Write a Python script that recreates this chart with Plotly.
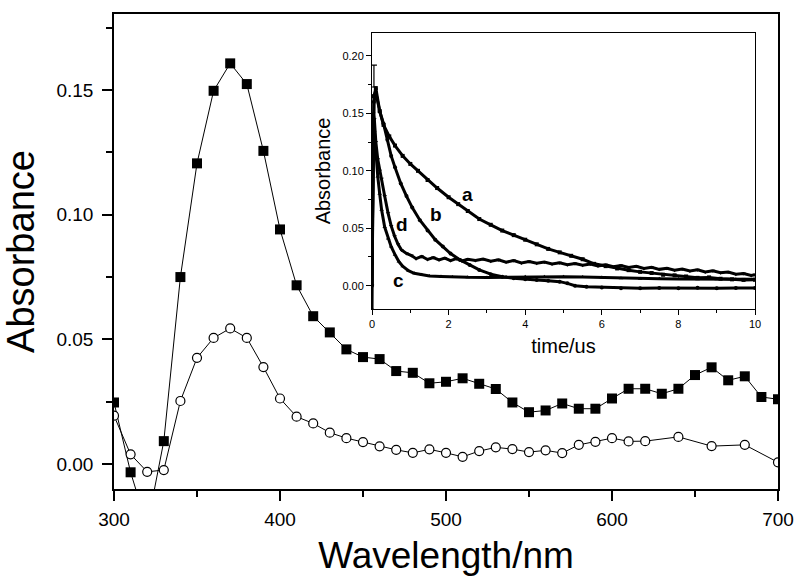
import plotly.graph_objects as go

# ---------------- main spectrum data ----------------
wl_sq = [300, 310, 320, 330, 340, 350, 360, 370, 380, 390, 400, 410, 420, 430, 440,
         450, 460, 470, 480, 490, 500, 510, 520, 530, 540, 550, 560, 570, 580, 590,
         600, 610, 620, 630, 640, 650, 660, 670, 680, 690, 700]
abs_sq = [0.0247, -0.0033, -0.025, 0.0092, 0.075, 0.1206, 0.1497, 0.1607, 0.1524, 0.1256,
          0.0941, 0.0717, 0.0593, 0.0528, 0.046, 0.0429, 0.0421, 0.0373, 0.0366, 0.0324,
          0.033, 0.0344, 0.0322, 0.0301, 0.0247, 0.0208, 0.0215, 0.0243, 0.0222, 0.0222,
          0.0263, 0.0302, 0.0302, 0.0282, 0.0302, 0.0357, 0.0388, 0.0336, 0.0352, 0.0269, 0.026]

wl_ci = [300, 310, 320, 330, 340, 350, 360, 370, 380, 390, 400, 410, 420, 430, 440,
         450, 460, 470, 480, 490, 500, 510, 520, 530, 540, 550, 560, 570, 580, 590,
         600, 610, 620, 640, 660, 680, 700]
abs_ci = [0.0194, 0.0039, -0.0031, -0.0024, 0.0253, 0.0426, 0.0506, 0.0544, 0.0506, 0.0389,
          0.0263, 0.019, 0.0163, 0.0126, 0.0104, 0.0088, 0.0071, 0.0057, 0.0045, 0.0059,
          0.0045, 0.0029, 0.0052, 0.0067, 0.006, 0.0048, 0.0055, 0.0044, 0.0077, 0.0089,
          0.0104, 0.0091, 0.0092, 0.0109, 0.0072, 0.0077, 0.0007]

main_xticks = [300, 400, 500, 600, 700]
main_yticks = [0.00, 0.05, 0.10, 0.15]

# ---------------- inset decay data ----------------
t_a = [0.0, 0.05, 0.1, 0.2, 0.3, 0.45, 0.6, 0.8, 1.0, 1.2, 1.45, 1.7, 2.0, 2.25, 2.5,
       2.8, 3.1, 3.4, 3.7, 4.0, 4.3, 4.6, 4.9, 5.2, 5.5, 5.8, 6.1, 6.4, 6.7, 7.0,
       7.3, 7.6, 7.9, 8.2, 8.5, 8.8, 9.1, 9.4, 9.7, 10.0]
v_a = [0.02, 0.165, 0.172, 0.152, 0.140, 0.130, 0.122, 0.113, 0.106, 0.100, 0.092, 0.085, 0.077, 0.071, 0.065,
       0.058, 0.053, 0.048, 0.044, 0.040, 0.036, 0.032, 0.029, 0.026, 0.023, 0.019, 0.017, 0.015, 0.0135, 0.012,
       0.011, 0.0095, 0.009, 0.008, 0.0068, 0.0072, 0.006, 0.0055, 0.005, 0.0052]

t_b = [0.0, 0.05, 0.1, 0.2, 0.3, 0.4, 0.5, 0.6, 0.75, 0.9, 1.05, 1.25, 1.45, 1.65, 1.85,
       2.05, 2.3, 2.55, 2.8, 3.1, 3.4, 3.7, 4.0, 4.3, 4.6, 4.9, 5.1, 5.3, 5.6, 6.0,
       6.5, 7.0, 7.5, 8.0, 8.5, 9.0, 9.5, 10.0]
v_b = [0.0, 0.160, 0.168, 0.152, 0.141, 0.127, 0.113, 0.103, 0.089, 0.078, 0.068, 0.057, 0.048, 0.040, 0.034,
       0.028, 0.0224, 0.018, 0.0137, 0.010, 0.0078, 0.0065, 0.0055, 0.005, 0.0042, 0.0035, 0.002, 0.0, -0.001, -0.0015,
       -0.0022, -0.0022, -0.002, -0.0022, -0.0018, -0.0022, -0.002, -0.002]

t_c = [0.0, 0.03, 0.06, 0.1, 0.15, 0.2, 0.25, 0.33, 0.42, 0.5, 0.6, 0.7, 0.8, 0.95, 1.1,
       1.3, 1.5, 1.8, 2.1, 2.5, 3.0, 3.5, 4.0, 4.5, 5.0, 5.5, 6.0, 6.5, 7.0, 7.5,
       8.0, 8.5, 9.0, 9.5, 10.0]
v_c = [-0.02, 0.14, 0.135, 0.115, 0.095, 0.080, 0.066, 0.051, 0.041, 0.034, 0.027, 0.021, 0.017, 0.013, 0.0108,
       0.0095, 0.0085, 0.008, 0.0075, 0.0073, 0.0072, 0.0075, 0.0078, 0.0077, 0.0078, 0.0075, 0.007, 0.0065, 0.006, 0.006,
       0.0058, 0.0056, 0.0056, 0.0055, 0.0055]

t_d = [0.0, 0.03, 0.06, 0.1, 0.15, 0.2, 0.25, 0.33, 0.42, 0.5,
       0.59, 0.68, 0.77, 0.9, 1.03, 1.15, 1.3, 1.45, 1.6, 1.75,
       1.9, 2.05, 2.2, 2.35, 2.5, 2.7, 2.9, 3.1, 3.3, 3.5,
       3.7, 3.9, 4.1, 4.3, 4.5, 4.7, 4.9, 5.1, 5.3, 5.5,
       5.7, 5.9, 6.1, 6.3, 6.5, 6.7, 6.9, 7.1, 7.3, 7.5,
       7.7, 7.9, 8.1, 8.3, 8.5, 8.7, 8.9, 9.1, 9.3, 9.5,
       9.7, 9.9, 10.0]
v_d = [0.0, 0.15, 0.145, 0.125, 0.11, 0.100, 0.093, 0.078, 0.063, 0.052,
       0.043, 0.036, 0.031, 0.028, 0.0262, 0.0235, 0.0255, 0.0228, 0.0245, 0.0225,
       0.0240, 0.0218, 0.0235, 0.0215, 0.0230, 0.0220, 0.0232, 0.0212, 0.0225, 0.0205,
       0.0218, 0.0198, 0.0210, 0.0195, 0.0205, 0.0188, 0.0200, 0.0182, 0.0192, 0.0178,
       0.0188, 0.0172, 0.0182, 0.0165, 0.0175, 0.0158, 0.0168, 0.0150, 0.0160, 0.0142,
       0.0152, 0.0135, 0.0145, 0.0128, 0.0138, 0.0120, 0.0130, 0.0112, 0.0118, 0.0100,
       0.0105, 0.0088, 0.0095]

spike_t = [0.05]
spike_v = [0.173]
spike_err = [0.019]

inset_labels = ["a", "b", "c", "d"]
label_t = [2.5, 1.68, 0.685, 0.775]
label_v = [0.079, 0.0616, 0.0049, 0.0529]

inset_xticks = [0, 2, 4, 6, 8, 10]
inset_yticks = [0.00, 0.05, 0.10, 0.15, 0.20]

FONT = "Liberation Sans, Arial, sans-serif"

fig = go.Figure()

fig.add_trace(go.Scatter(
    x=wl_sq, y=abs_sq, mode="lines+markers",
    line=dict(color="black", width=1),
    marker=dict(symbol="square", size=10, color="black"),
    xaxis="x", yaxis="y"))
fig.add_trace(go.Scatter(
    x=wl_ci, y=abs_ci, mode="lines+markers",
    line=dict(color="black", width=1),
    marker=dict(symbol="circle", size=9, color="white", line=dict(color="black", width=1.2)),
    xaxis="x", yaxis="y"))

inset_series = [(t_a, v_a, "square"), (t_b, v_b, "circle"), (t_c, v_c, "triangle-up"), (t_d, v_d, "triangle-down")]
for tt, vv, sym in inset_series:
    fig.add_trace(go.Scatter(
        x=tt, y=vv, mode="lines+markers",
        line=dict(color="black", width=3),
        marker=dict(symbol=sym, size=4, color="black"),
        xaxis="x2", yaxis="y2"))

fig.add_trace(go.Scatter(
    x=spike_t, y=spike_v, mode="markers",
    marker=dict(size=1, color="black"),
    error_y=dict(type="data", array=spike_err, arrayminus=[0], color="black", thickness=1.2, width=3),
    xaxis="x2", yaxis="y2"))

for lab, lt, lv in zip(inset_labels, label_t, label_v):
    fig.add_annotation(x=lt, y=lv, xref="x2", yref="y2", text="<b>%s</b>" % lab,
                       showarrow=False, font=dict(family=FONT, size=19, color="black"))

axis_common = dict(showgrid=False, zeroline=False, showline=True, linecolor="black",
                   mirror=True, ticks="outside", tickcolor="black", automargin=False)

fig.update_layout(
    width=795, height=576,
    margin=dict(l=114, r=17, t=14, b=87),
    paper_bgcolor="white", plot_bgcolor="white",
    showlegend=False,
    font=dict(family=FONT, color="black"),
    xaxis=dict(axis_common, range=[300, 700], tickvals=main_xticks, linewidth=1.5,
               ticklen=10, tickwidth=1.5, tickfont=dict(size=19), ticklabelstandoff=2,
               minor=dict(ticks="outside", dtick=50, tick0=300, ticklen=6, tickwidth=1.5, tickcolor="black"),
               title=dict(text="Wavelength/nm", font=dict(size=37), standoff=17)),
    yaxis=dict(axis_common, range=[-0.01, 0.1805], tickvals=main_yticks, tickformat=".2f",
               linewidth=1.5, ticklen=10, tickwidth=1.5, tickfont=dict(size=19), ticklabelstandoff=5,
               minor=dict(ticks="outside", dtick=0.025, tick0=0, ticklen=6, tickwidth=1.5, tickcolor="black"),
               title=dict(text="Absorbance", font=dict(size=38), standoff=21)),
    xaxis2=dict(axis_common, domain=[0.3886, 0.9654], anchor="y2", range=[0, 10],
                tickvals=inset_xticks, linewidth=1, ticklen=5, tickwidth=1, tickfont=dict(size=11),
                minor=dict(ticks="outside", dtick=1, tick0=0, ticklen=3, tickwidth=1, tickcolor="black"),
                title=dict(text="time/us", font=dict(size=20), standoff=9)),
    yaxis2=dict(axis_common, domain=[0.379, 0.96], anchor="x2", range=[-0.0203, 0.220],
                tickvals=inset_yticks, tickformat=".2f", linewidth=1, ticklen=5, tickwidth=1,
                tickfont=dict(size=11),
                minor=dict(ticks="outside", dtick=0.025, tick0=0, ticklen=3, tickwidth=1, tickcolor="black"),
                title=dict(text="Absorbance", font=dict(size=20), standoff=6)),
)

fig.write_html("out.html", config={"displayModeBar": False},
               post_script="document.body.style.margin='0';document.body.style.overflow='hidden';")
